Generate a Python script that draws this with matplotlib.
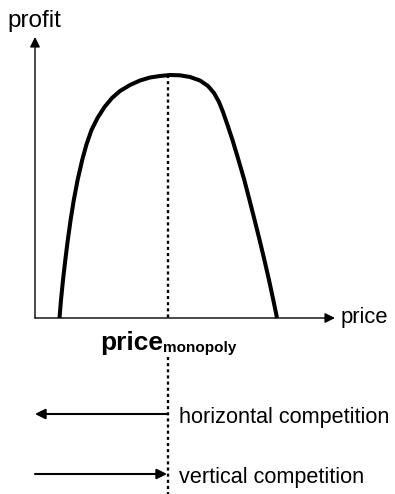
import matplotlib.pyplot as plt
from matplotlib.patches import FancyArrowPatch

plt.rcParams['font.family'] = ['Liberation Sans', 'DejaVu Sans']

# profit curve over price (canvas pixel units, y grows downward)
price = [59.5, 61, 63, 65.3, 67.8, 70.6, 73.8, 77.6, 82.2, 86.3, 91.5, 97.5, 104.5, 112,
         120, 130, 140, 150, 160, 170,
         180, 190, 200, 208, 214, 219, 223, 227.5, 232.5, 238.5, 244.3, 249.5, 254.6,
         259.6, 264.4, 269, 273.3, 277]
profit = [318, 300, 280, 260, 240, 220, 200, 180, 160, 145, 130, 118, 107, 98,
          91, 85, 80.5, 77.5, 76, 75,
          75.3, 77, 80.5, 86, 93, 102, 112, 125, 140, 160, 180, 200, 220,
          240, 260, 280, 300, 318]

p_monopoly = 168
peak = 75
origin = (35, 318)
x_end = 335
y_end = 37
horiz_y = 414
vert_y = 474

fig = plt.figure(figsize=(3.95, 4.94), dpi=100)
ax = fig.add_axes([0, 0, 1, 1])
ax.set_xlim(0, 395)
ax.set_ylim(494, 0)
ax.axis('off')


def arrow(x0, y0, x1, y1, lw, hl, hw):
    ax.add_patch(FancyArrowPatch((x0, y0), (x1, y1),
                                 arrowstyle=f'-|>,head_length={hl},head_width={hw}',
                                 mutation_scale=1, lw=lw, color='black',
                                 shrinkA=0, shrinkB=0))


# axes
arrow(origin[0], origin[1], x_end, origin[1], 1.0, 6, 3)
arrow(origin[0], origin[1], origin[0], y_end, 1.0, 6, 3)
ax.text(7, 27, 'profit', fontsize=17.5, ha='left', va='baseline')
ax.text(341, 323, 'price', fontsize=15.8, ha='left', va='baseline')

# curve
ax.plot(price, profit, color='black', lw=2.9, solid_capstyle='butt', solid_joinstyle='round')

# monopoly price marker
dots = (0, (1.3, 1.3))
ax.plot([p_monopoly, p_monopoly], [peak, 320], color='black', lw=1.7, ls=dots)
ax.plot([p_monopoly, p_monopoly], [357, 494], color='black', lw=1.7, ls=dots)
ax.text(163, 350, 'price', fontsize=19, fontweight='bold', ha='right', va='baseline')
ax.text(163, 352, 'monopoly', fontsize=11, fontweight='bold', ha='left', va='baseline')

# competition directions
arrow(p_monopoly, horiz_y, origin[0], horiz_y, 1.5, 6, 3)
ax.text(179, 423, 'horizontal competition', fontsize=15.6, ha='left', va='baseline')
arrow(origin[0], vert_y, p_monopoly - 1, vert_y, 1.5, 6, 3)
ax.text(179, 483, 'vertical competition', fontsize=15.6, ha='left', va='baseline')

fig.savefig('out.png', dpi=100)
